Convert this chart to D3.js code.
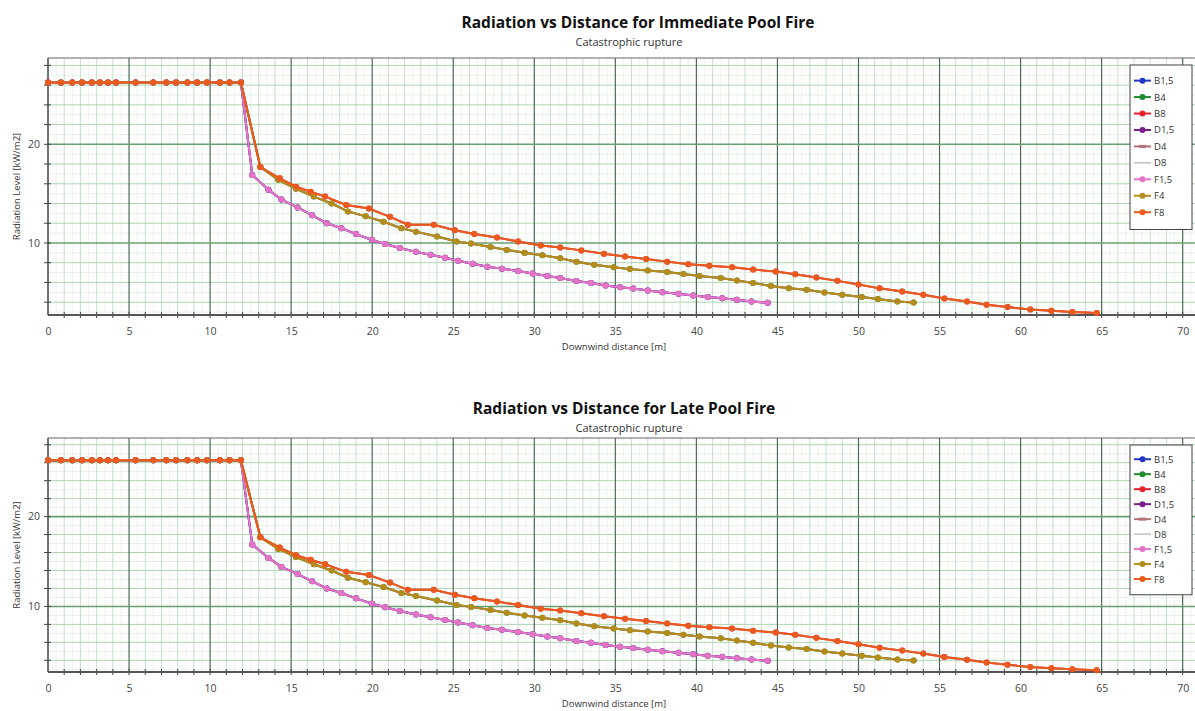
<!DOCTYPE html>
<html>
<head>
<meta charset="utf-8">
<script src="https://cdn.jsdelivr.net/npm/d3@7"></script>
<style>
  body { margin: 0; background: #fff; }
  svg { display: block; font-family: "Open Sans", "DejaVu Sans", sans-serif; }
</style>
</head>
<body>
<svg id="chart" width="1195" height="711"></svg>
<script>
// values

// the flat part, before the drop (same for every weather case)
const plateauDist = [0, 0.8, 1.5, 2.1, 2.7, 3.2, 3.7, 4.2, 5.4, 6.5, 7.3, 7.9, 8.6, 9.2, 9.8, 10.6, 11.2, 11.9];
const plateauLevel = [26.26, 26.26, 26.26, 26.26, 26.26, 26.26, 26.26, 26.26, 26.26, 26.26, 26.26, 26.26, 26.26, 26.26, 26.26, 26.26, 26.26, 26.26];

// wind 1.5 m/s (B1,5 / D1,5 / F1,5)
const dist15 = [12.6, 13.6, 14.4, 15.4, 16.3, 17.2, 18.1, 19.0, 20.0, 20.8, 21.7, 22.7, 23.6, 24.5, 25.3, 26.2, 27.1, 28.0, 29.0, 29.9, 30.8, 31.6, 32.6, 33.5, 34.4, 35.3, 36.1, 37.0, 37.9, 38.9, 39.8, 40.7, 41.6, 42.5, 43.4, 44.4];
const level15 = [16.9, 15.4, 14.4, 13.6, 12.8, 12.0, 11.5, 10.9, 10.3, 9.9, 9.5, 9.1, 8.8, 8.5, 8.2, 7.9, 7.6, 7.4, 7.15, 6.9, 6.65, 6.45, 6.15, 5.95, 5.7, 5.52, 5.38, 5.18, 5.0, 4.85, 4.68, 4.52, 4.4, 4.24, 4.08, 3.95];

// wind 4 m/s (B4 / D4 / F4)
const dist4 = [13.1, 14.2, 15.3, 16.4, 17.5, 18.5, 19.6, 20.7, 21.8, 22.7, 24.0, 25.2, 26.1, 27.3, 28.3, 29.4, 30.5, 31.6, 32.6, 33.7, 34.9, 35.9, 37.0, 38.2, 39.2, 40.2, 41.5, 42.5, 43.5, 44.6, 45.7, 46.8, 47.9, 49.0, 50.2, 51.2, 52.4, 53.4];
const level4 = [17.7, 16.4, 15.5, 14.7, 14.0, 13.2, 12.7, 12.15, 11.5, 11.15, 10.65, 10.15, 9.95, 9.6, 9.3, 9.0, 8.75, 8.45, 8.1, 7.8, 7.55, 7.35, 7.2, 7.05, 6.85, 6.65, 6.45, 6.2, 5.95, 5.65, 5.42, 5.25, 4.98, 4.75, 4.52, 4.32, 4.08, 3.97];

// wind 8 m/s (B8 / D8 / F8)
const dist8 = [13.1, 14.3, 15.3, 16.2, 17.1, 18.4, 19.8, 21.1, 22.2, 23.8, 25.1, 26.3, 27.7, 29.0, 30.4, 31.6, 32.9, 34.3, 35.6, 36.9, 38.2, 39.5, 40.8, 42.2, 43.5, 44.9, 46.1, 47.4, 48.7, 50.0, 51.3, 52.7, 54.0, 55.3, 56.7, 57.9, 59.2, 60.6, 61.9, 63.2, 64.7];
const level8 = [17.7, 16.55, 15.7, 15.2, 14.7, 13.85, 13.5, 12.65, 11.85, 11.85, 11.3, 10.9, 10.55, 10.15, 9.75, 9.55, 9.25, 8.9, 8.62, 8.38, 8.11, 7.85, 7.68, 7.54, 7.3, 7.1, 6.84, 6.5, 6.16, 5.8, 5.4, 5.08, 4.75, 4.38, 4.07, 3.75, 3.5, 3.25, 3.12, 3.0, 2.9];

const seriesNames = ["B1,5", "B4", "B8", "D1,5", "D4", "D8", "F1,5", "F4", "F8"];
const seriesWind = ["1.5", "4", "8", "1.5", "4", "8", "1.5", "4", "8"];

const xTickLabels = [0, 5, 10, 15, 20, 25, 30, 35, 40, 45, 50, 55, 60, 65, 70];
const yTickLabels = [10, 20];

const titles = ["Radiation vs Distance for Immediate Pool Fire", "Radiation vs Distance for Late Pool Fire"];
const subtitle = "Catastrophic rupture";

// colours / marker per series
const seriesColor = ["#2337c4", "#1f8a2e", "#e8202c", "#7b1c8c", "#b7707a", "#9aa69a", "#e474c6", "#b48c1c", "#ea5a1e"];
const seriesMarker = ["dot", "dot", "dot", "dot", "dash", "none", "dot", "dot", "dot"];

function buildPoints(d, l) {
  const pts = plateauDist.map((x, i) => ({ x: x, y: plateauLevel[i] }));
  return pts.concat(d.map((x, i) => ({ x: x, y: l[i] })));
}
const byWind = {
  "1.5": buildPoints(dist15, level15),
  "4": buildPoints(dist4, level4),
  "8": buildPoints(dist8, level8)
};
const series = seriesNames.map((n, i) => ({ name: n, color: seriesColor[i], marker: seriesMarker[i], values: byWind[seriesWind[i]] }));

const svg = d3.select("#chart");

function drawChart(cfg) {
  const left = 48, right = 1195;
  const top = cfg.top, bottom = cfg.bottom;
  const x = d3.scaleLinear().domain([0, 70.76]).range([left, right]);
  const y = d3.scaleLinear().domain([2.7, 28.75]).range([bottom, top]);
  const g = svg.append("g");

  // titles
  g.append("text").attr("x", cfg.titleX).attr("y", cfg.titleY)
    .attr("text-anchor", "middle").attr("font-size", "15.5px").attr("font-weight", "700")
    .attr("fill", "#111").text(cfg.title);
  g.append("text").attr("x", 629).attr("y", cfg.titleY + 18)
    .attr("text-anchor", "middle").attr("font-size", "11px").attr("fill", "#333").text(subtitle);

  // grid - fine lines
  const grid = g.append("g");
  grid.selectAll(".vf").data(d3.range(0.5, 70.76, 1)).join("line")
    .attr("x1", d => x(d)).attr("x2", d => x(d)).attr("y1", top).attr("y2", bottom)
    .attr("stroke", "#edf5ed").attr("stroke-width", 1);
  grid.selectAll(".hf").data(d3.range(3, 29, 2)).join("line")
    .attr("y1", d => y(d)).attr("y2", d => y(d)).attr("x1", left).attr("x2", right)
    .attr("stroke", "#e6f1e6").attr("stroke-width", 1);
  // minor
  grid.selectAll(".vm").data(d3.range(1, 71, 1).filter(d => d % 5 !== 0)).join("line")
    .attr("x1", d => x(d)).attr("x2", d => x(d)).attr("y1", top).attr("y2", bottom)
    .attr("stroke", "#c6dec8").attr("stroke-width", 1);
  grid.selectAll(".hm").data(d3.range(4, 29, 2).filter(d => d % 10 !== 0)).join("line")
    .attr("y1", d => y(d)).attr("y2", d => y(d)).attr("x1", left).attr("x2", right)
    .attr("stroke", "#b0d5b2").attr("stroke-width", 1);
  // major
  grid.selectAll(".vM").data(d3.range(5, 71, 5)).join("line")
    .attr("x1", d => x(d)).attr("x2", d => x(d)).attr("y1", top).attr("y2", bottom)
    .attr("stroke", "#4d6a53").attr("stroke-width", 1.2);
  grid.selectAll(".hM").data(yTickLabels).join("line")
    .attr("y1", d => y(d)).attr("y2", d => y(d)).attr("x1", left).attr("x2", right)
    .attr("stroke", "#6aa070").attr("stroke-width", 1.6);

  // frame top
  g.append("line").attr("x1", left).attr("x2", right).attr("y1", top).attr("y2", top)
    .attr("stroke", "#666").attr("stroke-width", 1.2);

  // axes
  const xAxis = g.append("g").attr("transform", `translate(0,${bottom})`)
    .call(d3.axisBottom(x).tickValues(xTickLabels).tickSize(0).tickPadding(13));
  xAxis.select(".domain").remove();
  xAxis.selectAll("text").attr("font-size", "10.5px").attr("fill", "#444").attr("font-family", "Open Sans");
  g.selectAll(".xt").data(d3.range(1, 71, 1)).join("line")
    .attr("x1", d => x(d)).attr("x2", d => x(d)).attr("y1", bottom - 3).attr("y2", bottom + 3)
    .attr("stroke", "#444").attr("stroke-width", 1);
  g.append("line").attr("x1", left).attr("x2", right).attr("y1", bottom).attr("y2", bottom)
    .attr("stroke", "#555").attr("stroke-width", 2);

  const yAxis = g.append("g").attr("transform", `translate(${left},0)`)
    .call(d3.axisLeft(y).tickValues(yTickLabels).tickSize(0).tickPadding(8));
  yAxis.select(".domain").remove();
  yAxis.selectAll("text").attr("font-size", "10.5px").attr("fill", "#444").attr("font-family", "Open Sans");
  g.selectAll(".yt").data(d3.range(4, 29, 2)).join("line")
    .attr("x1", left - 4).attr("x2", left + 3).attr("y1", d => y(d)).attr("y2", d => y(d))
    .attr("stroke", "#444").attr("stroke-width", 1);
  g.append("line").attr("x1", left).attr("x2", left).attr("y1", top).attr("y2", bottom)
    .attr("stroke", "#444").attr("stroke-width", 1.5);

  // axis labels
  g.append("text").attr("x", 614).attr("y", bottom + 35).attr("text-anchor", "middle")
    .attr("font-size", "9.5px").attr("fill", "#333").text("Downwind distance [m]");
  g.append("text").attr("transform", `translate(20,${(top + bottom) / 2}) rotate(-90)`)
    .attr("text-anchor", "middle").attr("font-size", "9.5px").attr("fill", "#333")
    .text("Radiation Level [kW/m2]");

  // series
  const line = d3.line().x(d => x(d.x)).y(d => y(d.y));
  series.forEach(s => {
    const sg = g.append("g");
    sg.append("path").datum(s.values).attr("d", line)
      .attr("fill", "none").attr("stroke", s.color)
      .attr("stroke-width", s.marker === "none" ? 1 : 2);
    if (s.marker === "dot") {
      sg.selectAll("circle").data(s.values).join("circle")
        .attr("cx", d => x(d.x)).attr("cy", d => y(d.y)).attr("r", 3)
        .attr("fill", s.color);
    } else if (s.marker === "dash") {
      sg.selectAll("line").data(s.values).join("line")
        .attr("x1", d => x(d.x) - 3).attr("x2", d => x(d.x) + 3)
        .attr("y1", d => y(d.y)).attr("y2", d => y(d.y))
        .attr("stroke", s.color).attr("stroke-width", 3);
    }
  });

  // legend
  const step = (bottom - top) * 0.064;
  const lg = g.append("g");
  lg.append("rect").attr("x", 1130).attr("y", top + 7).attr("width", 62)
    .attr("height", step * 10).attr("fill", "#fff").attr("stroke", "#444").attr("stroke-width", 1);
  series.forEach((s, i) => {
    const ly = top + 7 + step * (i + 1) - step * 0.05;
    lg.append("line").attr("x1", 1134).attr("x2", 1151).attr("y1", ly).attr("y2", ly)
      .attr("stroke", s.color).attr("stroke-width", s.marker === "none" ? 1 : 2);
    if (s.marker === "dot") {
      lg.append("circle").attr("cx", 1142.5).attr("cy", ly).attr("r", 3).attr("fill", s.color);
    } else if (s.marker === "dash") {
      lg.append("line").attr("x1", 1139).attr("x2", 1146).attr("y1", ly).attr("y2", ly)
        .attr("stroke", s.color).attr("stroke-width", 3);
    }
    lg.append("text").attr("x", 1154).attr("y", ly + 3.5).attr("font-size", "9.5px")
      .attr("fill", "#333").text(s.name);
  });
}

drawChart({ title: titles[0], titleX: 638, titleY: 28, top: 58, bottom: 315 });
drawChart({ title: titles[1], titleX: 624, titleY: 414, top: 438, bottom: 672 });
</script>
</body>
</html>
